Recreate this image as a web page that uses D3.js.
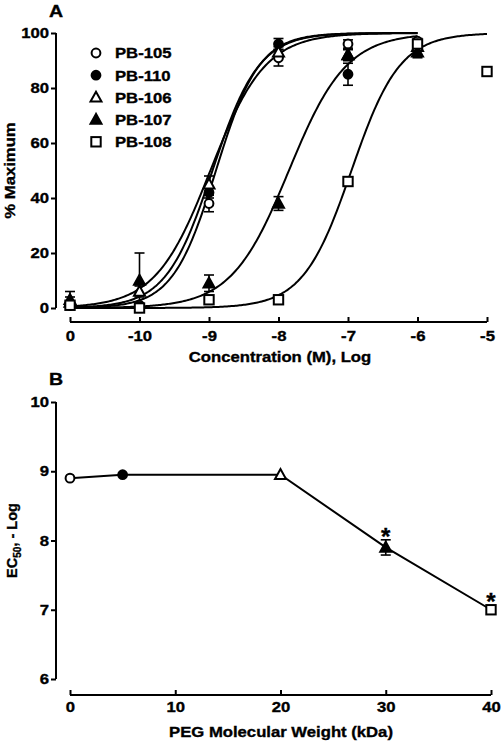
<!DOCTYPE html>
<html><head><meta charset="utf-8">
<script src="https://cdn.jsdelivr.net/npm/d3@7"></script>
<style>
html,body{margin:0;padding:0;background:#fff;}
svg text{font-family:"Liberation Sans",Arial,sans-serif;font-weight:bold;fill:#000;stroke:#000;stroke-width:0.35px;}
</style></head>
<body><svg id="chart" width="502" height="744"></svg>
<script>
// ---------- Panel A data ----------
const concLabels = ["0","-10","-9","-8","-7","-6","-5"];
const concPos    = [-11,-10,-9,-8,-7,-6,-5];
const seriesNames = ["PB-105","PB-110","PB-106","PB-107","PB-108"];
const seriesMarkers = ["circleOpen","circleFilled","triOpen","triFilled","squareOpen"];
const pb105 = [1, 1, 38, 91, 96, 97, null];
const pb110 = [1, 0.5, 42, 96, 85, 96, null];
const pb106 = [3, 6, 45, 93, 92, 95, null];
const pb107 = [2, 10, 9, 38, 92, 93, null];
const pb108 = [1, 0, 3, 3, 46, 96, 86];
const pb105Err = [1, 0, 3, 3, 1.5, 1, null];
const pb110Err = [1, 0, 2, 2, 4, 1, null];
const pb106Err = [3, 2, 3, 2, 2, 1, null];
const pb107Err = [2, 10, 3, 2.5, 2, 2, null];
const pb108Err = [0.5, 0.5, 1, 0.5, 1, 1, 1];
// sigmoid fit parameters
const fitLogEC50 = [-8.9, -8.95, -8.98, -7.85, -6.95];
const fitHill    = [1.4, 1.3, 1.1, 1.05, 1.25];
const fitEnd     = [-6, -6, -6, -6, -5];
const yTicksA = [0,20,40,60,80,100];

// ---------- Panel B data ----------
const pegMW   = [0, 5, 20, 30, 40];
const ec50    = [8.9, 8.95, 8.95, 7.9, 7.0];
const ec50Err = [0, 0, 0, 0.11, 0];
const signif  = [false, false, false, true, true];
const xTicksB = [0,10,20,30,40];
const yTicksB = [6,7,8,9,10];

const values = [pb105, pb110, pb106, pb107, pb108];
const errs = [pb105Err, pb110Err, pb106Err, pb107Err, pb108Err];

const svg = d3.select("#chart");
const FS = 14.5, STR = 1.15;
function stretch(sel, f){
  sel.each(function(){
    const l = this.getComputedTextLength();
    this.setAttribute("textLength", l*(f||STR));
    this.setAttribute("lengthAdjust","spacingAndGlyphs");
  });
}
function marker(g, type, x, y){
  const sw = 2;
  if (type.startsWith("circle")){
    g.append("circle").attr("cx",x).attr("cy",y).attr("r",4.4)
      .attr("fill", type==="circleFilled"?"#000":"#fff").attr("stroke","#000").attr("stroke-width",sw);
  } else if (type.startsWith("tri")){
    g.append("path").attr("d",`M${x},${y-5.7}L${x-5.5},${y+4.2}L${x+5.5},${y+4.2}Z`)
      .attr("fill", type==="triFilled"?"#000":"#fff").attr("stroke","#000").attr("stroke-width",sw).attr("stroke-linejoin","miter");
  } else {
    g.append("rect").attr("x",x-4.7).attr("y",y-4.7).attr("width",9.4).attr("height",9.4)
      .attr("fill","#fff").attr("stroke","#000").attr("stroke-width",sw);
  }
}

// ================= Panel A =================
const xA = d3.scaleLinear().domain([-11,-5]).range([70,487]);
const yA = d3.scaleLinear().domain([0,100]).range([308,33]);
const gA = svg.append("g");

gA.append("line").attr("x1",56).attr("x2",56).attr("y1",yA(100)).attr("y2",yA(0)).attr("stroke","#000").attr("stroke-width",2);
const yAxA = gA.append("g").attr("transform","translate(56,0)")
  .call(d3.axisLeft(yA).tickValues(yTicksA).tickFormat(d3.format("d")).tickSize(5).tickPadding(2));
yAxA.select(".domain").remove();
yAxA.selectAll("line").attr("stroke-width",2);
yAxA.selectAll("text").attr("font-size",FS).call(stretch);

gA.append("line").attr("x1",xA(-11)).attr("x2",xA(-5)).attr("y1",322).attr("y2",322).attr("stroke","#000").attr("stroke-width",2);
const xAxA = gA.append("g").attr("transform","translate(0,322)")
  .call(d3.axisBottom(xA).tickValues(concPos).tickFormat((d,i)=>concLabels[i]).tickSize(-5).tickPadding(9));
xAxA.select(".domain").remove();
xAxA.selectAll("line").attr("stroke-width",2);
xAxA.selectAll("text").attr("font-size",FS).call(stretch);

gA.append("text").attr("x",56).attr("y",17).attr("text-anchor","middle").attr("font-size",17).text("A").call(stretch);
gA.append("text").attr("x",280).attr("y",362).attr("text-anchor","middle").attr("font-size",FS).text("Concentration (M), Log").call(stretch);
gA.append("text").attr("transform",`translate(15,${(yA(0)+yA(100))/2}) rotate(-90)`).attr("text-anchor","middle").attr("font-size",FS).text("% Maximum").call(stretch);

// curves
const line = d3.line().x(d=>xA(d[0])).y(d=>yA(d[1]));
seriesNames.forEach((n,i)=>{
  const pts = [];
  for (let x=-11; x<=fitEnd[i]+1e-9; x+=0.02){
    pts.push([x, 100/(1+Math.pow(10,(fitLogEC50[i]-x)*fitHill[i]))]);
  }
  gA.append("path").attr("d",line(pts)).attr("fill","none").attr("stroke","#000").attr("stroke-width",2);
});
// error bars
seriesNames.forEach((n,i)=>{
  values[i].forEach((v,j)=>{
    if (v===null || !errs[i][j]) return;
    const x = xA(concPos[j]), y1 = yA(v-errs[i][j]), y2 = yA(v+errs[i][j]);
    gA.append("line").attr("x1",x).attr("x2",x).attr("y1",y1).attr("y2",y2).attr("stroke","#000").attr("stroke-width",1.6);
    [y1,y2].forEach(y=>gA.append("line").attr("x1",x-5).attr("x2",x+5).attr("y1",y).attr("y2",y).attr("stroke","#000").attr("stroke-width",1.6));
  });
});
// markers
seriesNames.forEach((n,i)=>{
  values[i].forEach((v,j)=>{
    if (v===null) return;
    marker(gA, seriesMarkers[i], xA(concPos[j]), yA(v));
  });
});
// legend
seriesNames.forEach((n,i)=>{
  const cy = 53 + i*22.2;
  marker(gA, seriesMarkers[i], 96, cy);
  gA.append("text").attr("x",115).attr("y",cy+5.3).attr("font-size",FS).text(n).call(stretch);
});

// ================= Panel B =================
const xB = d3.scaleLinear().domain([0,40]).range([70,491]);
const yB = d3.scaleLinear().domain([6,10]).range([679,402]);
const gB = svg.append("g");

gB.append("line").attr("x1",56).attr("x2",56).attr("y1",yB(10)).attr("y2",yB(6)).attr("stroke","#000").attr("stroke-width",2);
const yAxB = gB.append("g").attr("transform","translate(56,0)")
  .call(d3.axisLeft(yB).tickValues(yTicksB).tickFormat(d3.format("d")).tickSize(5).tickPadding(2));
yAxB.select(".domain").remove();
yAxB.selectAll("line").attr("stroke-width",2);
yAxB.selectAll("text").attr("font-size",FS).call(stretch);

gB.append("line").attr("x1",xB(0)).attr("x2",xB(40)).attr("y1",695).attr("y2",695).attr("stroke","#000").attr("stroke-width",2);
const xAxB = gB.append("g").attr("transform","translate(0,695)")
  .call(d3.axisBottom(xB).tickValues(xTicksB).tickFormat(d3.format("d")).tickSize(-5).tickPadding(7));
xAxB.select(".domain").remove();
xAxB.selectAll("line").attr("stroke-width",2);
xAxB.selectAll("text").attr("font-size",FS).call(stretch);

gB.append("text").attr("x",56).attr("y",385).attr("text-anchor","middle").attr("font-size",17).text("B").call(stretch);
gB.append("text").attr("x",281).attr("y",737).attr("text-anchor","middle").attr("font-size",FS).text("PEG Molecular Weight (kDa)").call(stretch);
const ecT = gB.append("text").attr("transform",`translate(17,${(yB(6)+yB(10))/2}) rotate(-90)`).attr("text-anchor","middle").attr("font-size",FS);
ecT.append("tspan").text("EC");
ecT.append("tspan").attr("font-size",10).attr("dy",4).text("50");
ecT.append("tspan").attr("dy",-4).text(", - Log");

const lineB = d3.line().x(d=>xB(d[0])).y(d=>yB(d[1]));
gB.append("path").attr("d",lineB(pegMW.map((m,i)=>[m,ec50[i]]))).attr("fill","none").attr("stroke","#000").attr("stroke-width",2);
pegMW.forEach((m,i)=>{
  const x = xB(m);
  let top = yB(ec50[i]) - 5;
  if (ec50Err[i]){
    const y1 = yB(ec50[i]-ec50Err[i]), y2 = yB(ec50[i]+ec50Err[i]);
    gB.append("line").attr("x1",x).attr("x2",x).attr("y1",y1).attr("y2",y2).attr("stroke","#000").attr("stroke-width",1.6);
    [y1,y2].forEach(y=>gB.append("line").attr("x1",x-5).attr("x2",x+5).attr("y1",y).attr("y2",y).attr("stroke","#000").attr("stroke-width",1.6));
    top = Math.min(top, y2);
  }
  marker(gB, seriesMarkers[i], x, yB(ec50[i]));
  if (signif[i]){
    gB.append("text").attr("x",x).attr("y",top+5).attr("text-anchor","middle").attr("font-size",24).text("*");
  }
});
</script></body></html>
